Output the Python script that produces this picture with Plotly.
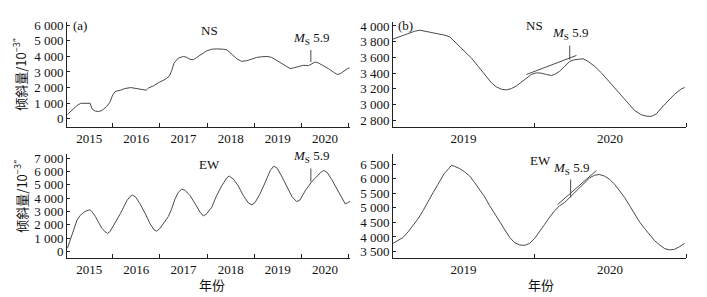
import plotly.graph_objects as go

# ---------------- data (decimal year, tilt value in 10^-3") ----------------
ns_a_year = [2015.04, 2015.13, 2015.24, 2015.32, 2015.41, 2015.52, 2015.56, 2015.63, 2015.70, 2015.77,
             2015.87, 2015.94, 2016.00, 2016.05, 2016.16, 2016.26, 2016.38, 2016.51, 2016.61, 2016.71,
             2016.76, 2016.86, 2016.97, 2017.11, 2017.20, 2017.25, 2017.30, 2017.39, 2017.50, 2017.57,
             2017.64, 2017.71, 2017.78, 2017.89, 2017.99, 2018.10, 2018.20, 2018.35, 2018.42, 2018.52,
             2018.63, 2018.73, 2018.84, 2018.95, 2019.05, 2019.16, 2019.27, 2019.37, 2019.48, 2019.58,
             2019.69, 2019.76, 2019.83, 2019.94, 2020.04, 2020.15, 2020.22, 2020.29, 2020.36, 2020.47,
             2020.57, 2020.68, 2020.76, 2020.82, 2020.89, 2020.98, 2021.02]
ns_a_val = [274, 526, 842, 989, 989, 989, 632, 484, 463, 526,
            779, 1053, 1537, 1747, 1831, 1937, 2000, 1937, 1873, 1831,
            1979, 2105, 2316, 2526, 2737, 3094, 3579, 3894, 4000, 3936,
            3810, 3789, 3936, 4147, 4357, 4463, 4484, 4463, 4421, 4147,
            3852, 3684, 3726, 3831, 3936, 3978, 4000, 3936, 3726, 3515,
            3305, 3221, 3263, 3368, 3431, 3410, 3536, 3642, 3579, 3410,
            3221, 2989, 2842, 2884, 3052, 3221, 3263]

ew_a_year = [2015.04, 2015.10, 2015.17, 2015.24, 2015.31, 2015.41, 2015.51, 2015.55, 2015.63, 2015.70,
             2015.77, 2015.84, 2015.89, 2015.94, 2016.01, 2016.08, 2016.16, 2016.23, 2016.30, 2016.37,
             2016.42, 2016.49, 2016.58, 2016.69, 2016.79, 2016.88, 2016.93, 2017.00, 2017.11, 2017.18,
             2017.25, 2017.32, 2017.39, 2017.46, 2017.53, 2017.64, 2017.75, 2017.85, 2017.92, 2017.99,
             2018.10, 2018.20, 2018.31, 2018.42, 2018.47, 2018.56, 2018.66, 2018.77, 2018.88, 2018.95,
             2019.02, 2019.12, 2019.23, 2019.34, 2019.41, 2019.48, 2019.58, 2019.69, 2019.80, 2019.90,
             2019.97, 2020.08, 2020.17, 2020.22, 2020.29, 2020.40, 2020.47, 2020.54, 2020.64, 2020.75,
             2020.86, 2020.93, 2021.00, 2021.03]
ew_a_val = [246, 860, 1596, 2333, 2702, 2996, 3119, 3021, 2628, 2137,
            1719, 1474, 1351, 1474, 1891, 2382, 2824, 3316, 3807, 4126,
            4224, 4052, 3561, 2824, 2088, 1596, 1523, 1719, 2260, 2628,
            3193, 3930, 4421, 4666, 4593, 4175, 3561, 2947, 2653, 2824,
            3316, 4175, 4912, 5526, 5649, 5403, 4912, 4175, 3610, 3488,
            3684, 4298, 5158, 6066, 6386, 6263, 5649, 4912, 4102, 3733,
            3856, 4544, 5035, 5231, 5477, 5894, 6066, 5944, 5403, 4666,
            3930, 3561, 3684, 3758]

ns_b_year = [2019.072, 2019.127, 2019.171, 2019.215, 2019.248, 2019.281, 2019.325, 2019.368, 2019.412, 2019.445,
             2019.478, 2019.511, 2019.544, 2019.588, 2019.632, 2019.675, 2019.719, 2019.752, 2019.785, 2019.818,
             2019.851, 2019.884, 2019.917, 2019.950, 2019.982, 2020.015, 2020.048, 2020.081, 2020.114, 2020.136,
             2020.169, 2020.202, 2020.235, 2020.268, 2020.300, 2020.322, 2020.355, 2020.399, 2020.443, 2020.487,
             2020.531, 2020.575, 2020.618, 2020.662, 2020.706, 2020.739, 2020.772, 2020.805, 2020.838, 2020.882,
             2020.925, 2020.969, 2020.991]
ns_b_val = [3833, 3875, 3908, 3933, 3946, 3933, 3925, 3904, 3883, 3862,
            3800, 3737, 3675, 3592, 3487, 3383, 3279, 3225, 3196, 3187,
            3204, 3237, 3287, 3342, 3383, 3404, 3400, 3383, 3371, 3383,
            3425, 3487, 3550, 3571, 3583, 3583, 3550, 3487, 3404, 3308,
            3217, 3125, 3029, 2925, 2871, 2854, 2850, 2883, 2958, 3050,
            3133, 3200, 3217]

ew_b_year = [2019.072, 2019.105, 2019.138, 2019.171, 2019.204, 2019.237, 2019.270, 2019.303, 2019.336, 2019.368,
             2019.390, 2019.412, 2019.434, 2019.456, 2019.478, 2019.511, 2019.544, 2019.577, 2019.610, 2019.643,
             2019.675, 2019.708, 2019.741, 2019.774, 2019.807, 2019.840, 2019.873, 2019.906, 2019.939, 2019.971,
             2020.004, 2020.037, 2020.070, 2020.103, 2020.136, 2020.169, 2020.202, 2020.235, 2020.268, 2020.300,
             2020.333, 2020.366, 2020.399, 2020.432, 2020.465, 2020.498, 2020.531, 2020.564, 2020.596, 2020.629,
             2020.662, 2020.695, 2020.728, 2020.761, 2020.794, 2020.827, 2020.860, 2020.893, 2020.925, 2020.958,
             2020.991]
ew_b_val = [3780, 3870, 3982, 4173, 4398, 4623, 4904, 5241, 5522, 5803,
            6028, 6197, 6309, 6455, 6421, 6343, 6230, 6084, 5859, 5635,
            5376, 5073, 4792, 4510, 4229, 3982, 3802, 3724, 3712, 3780,
            3948, 4173, 4432, 4679, 4904, 5073, 5185, 5354, 5522, 5691,
            5859, 6028, 6118, 6140, 6084, 5972, 5803, 5578, 5354, 5073,
            4792, 4510, 4286, 4061, 3870, 3724, 3600, 3555, 3578, 3667,
            3780]

# earthquake marks / trend lines
quake_a = 2020.20
quake_ns_b = 2020.235
quake_ew_b = 2020.241
trend_ns_b_x = [2019.950, 2020.279]
trend_ns_b_y = [3383, 3625]
trend_ew_b_x = [2020.154, 2020.410]
trend_ew_b_y = [5106, 6275]

# tick labels
year_labels_a = ["2015", "2016", "2017", "2018", "2019", "2020"]
year_pos_a = [2015.5, 2016.5, 2017.5, 2018.5, 2019.5, 2020.5]
year_bounds_a = [2016, 2017, 2018, 2019, 2020, 2021]
year_labels_b = ["2019", "2020"]
year_pos_b = [2019.536, 2020.5]
year_bounds_b = [2020, 2021]

ns_a_ticks = [0, 1000, 2000, 3000, 4000, 5000, 6000]
ew_a_ticks = [0, 1000, 2000, 3000, 4000, 5000, 6000, 7000]
ns_b_ticks = [2800, 3000, 3200, 3400, 3600, 3800, 4000]
ew_b_ticks = [3500, 4000, 4500, 5000, 5500, 6000, 6500]


def fmt(v):
    return f"{v:,}".replace(",", " ")


W, H = 707, 297
LINE = "#4a4a4a"
AX = "#222222"
FONT = "Liberation Serif, Times New Roman, Noto Sans CJK SC, serif"
CJK = "Noto Sans CJK SC, Liberation Serif, serif"

fig = go.Figure()
fig.add_trace(go.Scatter(x=ns_a_year, y=ns_a_val, mode="lines", line=dict(color=LINE, width=1), xaxis="x", yaxis="y"))
fig.add_trace(go.Scatter(x=ns_b_year, y=ns_b_val, mode="lines", line=dict(color=LINE, width=1), xaxis="x2", yaxis="y2"))
fig.add_trace(go.Scatter(x=ew_a_year, y=ew_a_val, mode="lines", line=dict(color=LINE, width=1), xaxis="x3", yaxis="y3"))
fig.add_trace(go.Scatter(x=ew_b_year, y=ew_b_val, mode="lines", line=dict(color=LINE, width=1), xaxis="x4", yaxis="y4"))

# earthquake markers and trend lines
fig.add_trace(go.Scatter(x=[quake_a, quake_a], y=[3642, 4421], mode="lines", line=dict(color=LINE, width=1), xaxis="x", yaxis="y"))
fig.add_trace(go.Scatter(x=[quake_a, quake_a], y=[5231, 6214], mode="lines", line=dict(color=LINE, width=1), xaxis="x3", yaxis="y3"))
fig.add_trace(go.Scatter(x=[quake_ns_b, quake_ns_b], y=[3571, 3750], mode="lines", line=dict(color=LINE, width=1), xaxis="x2", yaxis="y2"))
fig.add_trace(go.Scatter(x=[quake_ew_b, quake_ew_b], y=[5354, 5972], mode="lines", line=dict(color=LINE, width=1), xaxis="x4", yaxis="y4"))
fig.add_trace(go.Scatter(x=trend_ns_b_x, y=trend_ns_b_y, mode="lines", line=dict(color=LINE, width=1), xaxis="x2", yaxis="y2"))
fig.add_trace(go.Scatter(x=trend_ew_b_x, y=trend_ew_b_y, mode="lines", line=dict(color=LINE, width=1), xaxis="x4", yaxis="y4"))


def xdom(p0, p1):
    return [p0 / W, p1 / W]


def ydom(p_top, p_bot):
    return [1 - p_bot / H, 1 - p_top / H]


def xaxis(dom, rng, pos, labels, bounds, anchor):
    return dict(domain=dom, range=rng, anchor=anchor, showline=True, linecolor=AX, linewidth=1,
                showgrid=False, zeroline=False, tickmode="array", tickvals=pos, ticktext=labels,
                ticks="", tickfont=dict(family=FONT, size=13, color="#111"),
                minor=dict(tickmode="array", tickvals=bounds, ticks="inside", ticklen=4,
                           tickcolor=AX, tickwidth=1, showgrid=False),
                fixedrange=True)


def yaxis(dom, rng, ticks, anchor):
    return dict(domain=dom, range=rng, anchor=anchor, showline=True, linecolor=AX, linewidth=1,
                showgrid=False, zeroline=False, tickmode="array", tickvals=ticks,
                ticktext=[fmt(v) for v in ticks], ticks="inside", ticklen=3, tickcolor=AX,
                tickfont=dict(family=FONT, size=13, color="#111"), fixedrange=True)


fig.update_layout(
    width=W, height=H, margin=dict(l=0, r=0, t=0, b=0),
    paper_bgcolor="white", plot_bgcolor="white", showlegend=False,
    xaxis=xaxis(xdom(67, 350), [2015.03, 2021.03], year_pos_a, year_labels_a, year_bounds_a, "y"),
    yaxis=yaxis(ydom(18, 125), [-526, 6231], ns_a_ticks, "x"),
    xaxis2=xaxis(xdom(393, 686), [2019.072, 2021.0], year_pos_b, year_labels_b, year_bounds_b, "y2"),
    yaxis2=yaxis(ydom(18, 125), [2717, 4054], ns_b_ticks, "x2"),
    xaxis3=xaxis(xdom(67, 350), [2015.03, 2021.03], year_pos_a, year_labels_a, year_bounds_a, "y3"),
    yaxis3=yaxis(ydom(153, 258), [-467, 7270], ew_a_ticks, "x3"),
    xaxis4=xaxis(xdom(393, 686), [2019.072, 2021.0], year_pos_b, year_labels_b, year_bounds_b, "y4"),
    yaxis4=yaxis(ydom(153, 258), [3290, 6830], ew_b_ticks, "x4"),
)

ms = "<i>M</i><sub>S</sub> 5.9"
ann = []


def txt(text, x, y, xref, yref, size=13, fam=FONT, xanchor="center", yanchor="middle", angle=0):
    ann.append(dict(text=text, x=x, y=y, xref=xref, yref=yref, showarrow=False,
                    font=dict(family=fam, size=size, color="#111"), xanchor=xanchor,
                    yanchor=yanchor, textangle=angle))


# panel letters
txt("(a)", 71 / W, 1 - 22 / H, "paper", "paper", xanchor="left")
txt("(b)", 396 / W, 1 - 22 / H, "paper", "paper", xanchor="left")
# series names
txt("NS", 2018.06, 5684, "x", "y")
txt("EW", 2018.06, 6508, "x3", "y3")
txt("NS", 2020.004, 4008, "x2", "y2")
txt("EW", 2020.045, 6620, "x4", "y4")
# earthquake labels
txt(ms, 2020.20, 4500, "x", "y", yanchor="bottom")
txt(ms, 2020.20, 6300, "x3", "y3", yanchor="bottom")
txt(ms, 2020.235, 3770, "x2", "y2", yanchor="bottom")
txt(ms, 2020.245, 5975, "x4", "y4", yanchor="bottom")
# axis titles
ytitle = "倾斜量/10<sup>−3″</sup>"
txt(ytitle, 19 / W, 1 - 72 / H, "paper", "paper", fam=CJK, angle=-90)
txt(ytitle, 20 / W, 1 - 196 / H, "paper", "paper", fam=CJK, angle=-90)
txt("年份", 212 / W, 1 - 285 / H, "paper", "paper", fam=CJK)
txt("年份", 541 / W, 1 - 285 / H, "paper", "paper", fam=CJK)

fig.update_layout(annotations=ann)
fig.write_html("out.html", config=dict(displayModeBar=False),
               post_script="document.body.style.margin='0';document.body.style.padding='0';")
